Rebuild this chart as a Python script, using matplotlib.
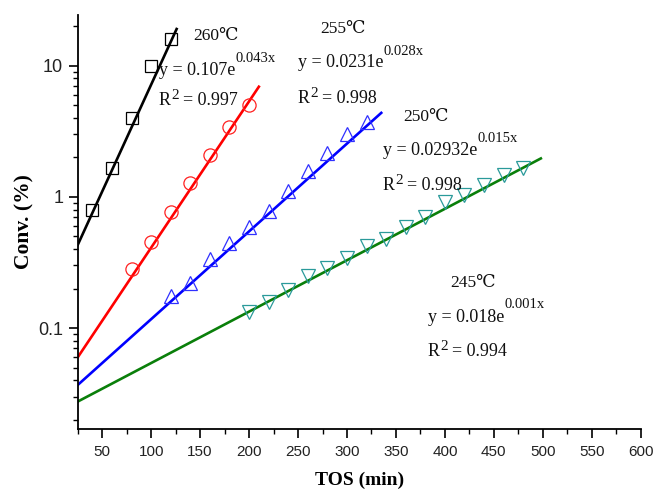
import matplotlib
matplotlib.use('Agg')
import matplotlib.pyplot as plt
from matplotlib import ticker

# measured points, TOS (min) vs conversion (%)
x260 = [40, 60, 80, 100, 120]
y260 = [0.80, 1.65, 4.0, 9.9, 15.9]
x255 = [80, 100, 120, 140, 160, 180, 200]
y255 = [0.28, 0.45, 0.77, 1.28, 2.08, 3.42, 5.05]
x250 = [120, 140, 160, 180, 200, 220, 240, 260, 280, 300, 320]
y250 = [0.175, 0.22, 0.335, 0.445, 0.585, 0.78, 1.1, 1.58, 2.15, 3.0, 3.7]
x245 = [200, 220, 240, 260, 280, 300, 320, 340, 360, 380, 400, 420, 440, 460, 480]
y245 = [0.133, 0.159, 0.195, 0.25, 0.285, 0.34, 0.42, 0.48, 0.59, 0.70, 0.91, 1.03, 1.23, 1.46, 1.65]

# fitted lines, read as start/end points
fit260_x = [25, 126]
fit260_y = [0.43, 19.0]
fit255_x = [25, 210]
fit255_y = [0.0598, 6.9]
fit250_x = [25, 335]
fit250_y = [0.0368, 4.36]
fit245_x = [25, 498]
fit245_y = [0.0275, 1.96]

serif = ['Liberation Serif', 'DejaVu Serif']
sans = ['Liberation Sans', 'DejaVu Sans']

W, H = 656, 491
fig = plt.figure(figsize=(W / 100, H / 100), dpi=100)
ax = fig.add_axes([0.1185, 0.1263, 0.9767 - 0.1185, 0.9695 - 0.1263])

ax.plot(fit260_x, fit260_y, '-', color='black', lw=1.9, zorder=2)
ax.plot(fit255_x, fit255_y, '-', color='#ff0000', lw=1.9, zorder=2)
ax.plot(fit250_x, fit250_y, '-', color='#0000ff', lw=1.9, zorder=2)
ax.plot(fit245_x, fit245_y, '-', color='#0a7f0a', lw=1.9, zorder=2)

ax.plot(x260, y260, 's', mfc='none', mec='black', ms=8.5, mew=0.9, zorder=3)
ax.plot(x255, y255, 'o', mfc='none', mec='#ff2020', ms=9.5, mew=0.9, zorder=3)
ax.plot(x250, y250, '^', mfc='none', mec='#3030ff', ms=10, mew=0.9, zorder=3)
ax.plot(x245, y245, 'v', mfc='none', mec='#2a9a9a', ms=10, mew=0.9, zorder=3)

ax.set_yscale('log')
ax.set_xlim(25, 600)
ax.set_ylim(0.017, 24.3)

ax.xaxis.set_major_locator(ticker.MultipleLocator(50))
ax.xaxis.set_minor_locator(ticker.AutoMinorLocator(2))
ax.yaxis.set_major_locator(ticker.LogLocator(base=10, numticks=10))
ax.yaxis.set_minor_locator(ticker.LogLocator(base=10, subs=range(2, 10), numticks=10))
ax.yaxis.set_major_formatter(ticker.FuncFormatter(lambda v, p: '%g' % v))
ax.yaxis.set_minor_formatter(ticker.NullFormatter())

for s in ['top', 'right']:
    ax.spines[s].set_visible(False)
for s in ['left', 'bottom']:
    ax.spines[s].set_linewidth(1.3)

ax.tick_params(which='major', direction='out', length=6.5, width=1.2, labelcolor='#222222')
ax.tick_params(which='minor', direction='out', length=3.5, width=1.0)
ax.tick_params(axis='x', which='major', labelsize=11, pad=5)
ax.tick_params(axis='y', which='major', labelsize=13, pad=4)
for lab in ax.get_xticklabels() + ax.get_yticklabels():
    lab.set_family(sans)

ax.set_xlabel('TOS (min)', family=serif, fontweight='bold', fontsize=14, labelpad=9)
ax.set_ylabel('Conv. (%)', family=serif, fontweight='bold', fontsize=15.5, labelpad=2.5)

renderer = fig.canvas.get_renderer()

def note(px, base, pieces):
    # pieces: (text, size, rise px, gap px); px/base in pixels from top left
    x = px
    for s, size, rise, gap in pieces:
        t = fig.text((x + gap) / W, 1 - (base - rise) / H, s, family=serif,
                     fontsize=size, va='baseline', ha='left', color='#111111')
        x = t.get_window_extent(renderer).x1

def eq(px, base, a, b, rise):
    note(px, base, [(a, 13, 0, 0), (b, 10.5, rise, 0)])

def r2(px, base, val):
    note(px, base, [('R', 13, 0, 0), ('2', 11, 6, 0), ('= ' + val, 13, 0, 4)])

note(193, 40, [('260\u2103', 12.5, 0, 0)])
eq(159, 75, 'y = 0.107e', '0.043x', 13)
r2(159, 105, '0.997')
note(320, 33, [('255\u2103', 12.5, 0, 0)])
eq(298, 67, 'y = 0.0231e', '0.028x', 12)
r2(298, 103, '0.998')
note(403, 121, [('250\u2103', 12.5, 0, 0)])
eq(383, 155, 'y = 0.02932e', '0.015x', 13)
r2(383, 190, '0.998')
note(450, 287, [('245\u2103', 12.5, 0, 0)])
eq(428, 322, 'y = 0.018e', '0.001x', 14)
r2(428, 356, '0.994')

fig.savefig('out.png', dpi=100)
